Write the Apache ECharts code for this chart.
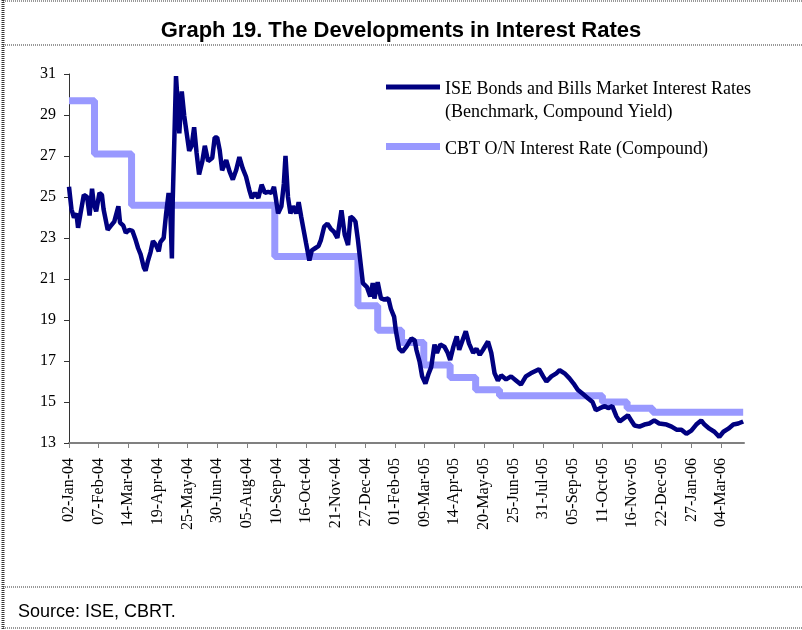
<!DOCTYPE html>
<html>
<head>
<meta charset="utf-8">
<script src="https://cdn.jsdelivr.net/npm/echarts@6/dist/echarts.min.js"></script>
<style>
html,body{margin:0;padding:0;background:#fff;}
#chart{width:802px;height:630px;}
</style>
</head>
<body>
<div id="chart"></div>
<script>
// ---- Data ----
const xTickLabels = ['02-Jan-04','07-Feb-04','14-Mar-04','19-Apr-04','25-May-04','30-Jun-04','05-Aug-04','10-Sep-04','16-Oct-04','21-Nov-04','27-Dec-04','01-Feb-05','09-Mar-05','14-Apr-05','20-May-05','25-Jun-05','31-Jul-05','05-Sep-05','11-Oct-05','16-Nov-05','22-Dec-05','27-Jan-06','04-Mar-06'];

const iseName = 'ISE Bonds and Bills Market Interest Rates\n(Benchmark, Compound Yield)';
const cbtName = 'CBT O/N Interest Rate (Compound)';

const iseDates = ['2004-01-02','2004-01-05','2004-01-08','2004-01-11','2004-01-13','2004-01-16','2004-01-20','2004-01-24','2004-01-27','2004-01-30',
'2004-02-01','2004-02-04','2004-02-08','2004-02-11','2004-02-13','2004-02-18','2004-02-22','2004-02-26','2004-03-02','2004-03-04',
'2004-03-08','2004-03-11','2004-03-15','2004-03-19','2004-03-23','2004-03-26','2004-03-29','2004-04-02','2004-04-04','2004-04-07',
'2004-04-10','2004-04-13','2004-04-16','2004-04-20','2004-04-22','2004-04-26','2004-04-29','2004-05-02','2004-05-04','2004-05-06',
'2004-05-07','2004-05-11','2004-05-13','2004-05-15','2004-05-18','2004-05-21','2004-05-24','2004-05-27','2004-05-30','2004-06-02',
'2004-06-05','2004-06-08','2004-06-12','2004-06-15','2004-06-19','2004-06-24','2004-06-27','2004-06-30','2004-07-03','2004-07-06',
'2004-07-11','2004-07-15','2004-07-19','2004-07-23','2004-07-27','2004-07-31','2004-08-04','2004-08-08','2004-08-11','2004-08-15',
'2004-08-19','2004-08-23','2004-08-27','2004-08-31','2004-09-04','2004-09-07','2004-09-09','2004-09-12','2004-09-16','2004-09-19',
'2004-09-21','2004-09-24','2004-09-27','2004-09-30','2004-10-04','2004-10-07','2004-10-10','2004-10-13','2004-10-16','2004-10-20',
'2004-10-23','2004-10-27','2004-10-31','2004-11-03','2004-11-07','2004-11-11','2004-11-15','2004-11-19','2004-11-23','2004-11-28',
'2004-12-02','2004-12-06','2004-12-09','2004-12-12','2004-12-15','2004-12-18','2004-12-22','2004-12-24','2004-12-29','2005-01-02',
'2005-01-05','2005-01-07','2005-01-11','2005-01-15','2005-01-19','2005-01-24','2005-01-27','2005-01-31','2005-02-02','2005-02-06',
'2005-02-10','2005-02-15','2005-02-21','2005-02-25','2005-02-27','2005-03-03','2005-03-06','2005-03-10','2005-03-14','2005-03-17',
'2005-03-21','2005-03-24','2005-03-28','2005-04-02','2005-04-06','2005-04-09','2005-04-13','2005-04-17','2005-04-20','2005-04-24',
'2005-04-28','2005-05-02','2005-05-07','2005-05-11','2005-05-15','2005-05-19','2005-05-25','2005-05-29','2005-06-02','2005-06-06',
'2005-06-10','2005-06-16','2005-06-22','2005-06-28','2005-07-04','2005-07-10','2005-07-16','2005-07-21','2005-07-26','2005-07-31',
'2005-08-04','2005-08-10','2005-08-16','2005-08-20','2005-08-26','2005-09-01','2005-09-06','2005-09-11','2005-09-17','2005-09-23',
'2005-09-29','2005-10-03','2005-10-08','2005-10-14','2005-10-18','2005-10-23','2005-10-28','2005-11-01','2005-11-06','2005-11-11',
'2005-11-15','2005-11-19','2005-11-25','2005-12-01','2005-12-07','2005-12-13','2005-12-19','2005-12-28','2006-01-03','2006-01-09',
'2006-01-15','2006-01-21','2006-01-27','2006-02-02','2006-02-08','2006-02-12','2006-02-18','2006-02-24','2006-03-02','2006-03-07',
'2006-03-13','2006-03-19','2006-03-25','2006-03-31'];

const iseValues = [25.5,24.4,24.0,24.2,23.5,24.2,25.1,25.0,24.1,25.4,
24.7,24.3,25.2,25.1,24.4,23.4,23.6,23.8,24.55,23.75,
23.6,23.25,23.4,23.35,22.9,22.5,22.2,21.55,21.4,21.9,
22.3,22.85,22.7,22.35,22.8,23.0,24.2,25.2,24.4,22.0,
24.8,30.9,29.6,28.1,30.15,28.95,28.1,27.25,27.5,28.4,
27.15,26.1,26.75,27.5,26.75,26.9,27.9,27.9,27.3,26.3,
26.8,26.25,25.85,26.3,26.95,26.4,26.0,25.35,24.95,25.2,
24.95,25.6,25.2,25.25,25.2,25.5,25.0,24.2,24.55,25.65,
27.0,25.0,24.2,24.55,24.2,24.75,24.05,23.4,22.75,21.9,
22.4,22.5,22.6,22.9,23.55,23.7,23.45,23.3,23.0,24.35,
23.15,22.65,24.05,23.95,23.8,22.9,21.5,20.8,20.6,20.15,
20.8,20.05,20.85,20.05,20.0,20.05,19.55,19.15,18.5,17.6,
17.45,17.7,18.1,18.0,17.55,16.95,16.25,15.9,16.4,16.7,
17.8,17.4,17.8,17.7,17.4,17.05,17.7,18.2,17.55,18.0,
18.45,17.85,17.4,17.6,17.3,17.55,17.95,17.4,16.4,16.05,
16.3,16.1,16.25,16.05,15.85,16.25,16.4,16.5,16.6,16.25,
16.0,16.25,16.4,16.55,16.4,16.15,15.9,15.6,15.4,15.2,
15.0,14.6,14.7,14.8,14.7,14.8,14.3,14.05,14.2,14.35,
14.1,13.85,13.8,13.9,13.95,14.1,13.95,13.9,13.8,13.65,
13.65,13.45,13.6,13.9,14.1,13.9,13.7,13.55,13.3,13.55,
13.7,13.9,13.95,14.05];

const cbtDates = ['2004-01-02','2004-02-02','2004-03-18','2004-09-08','2004-12-18','2005-01-11','2005-02-09','2005-03-08','2005-04-09','2005-05-10','2005-06-08','2005-10-11','2005-11-10','2005-12-11','2006-03-31'];
const cbtValues = [29.7,27.1,24.6,22.1,19.7,18.5,17.9,16.8,16.2,15.6,15.3,15.0,14.7,14.5,14.5];

// ---- helpers ----
const baseUTC = Date.UTC(2004, 0, 2);
function dayOf(s) {
  const p = s.split('-').map(Number);
  return Math.round((Date.UTC(p[0], p[1] - 1, p[2]) - baseUTC) / 86400000);
}
const tickStep = 36;
const tickDays = xTickLabels.map((_, i) => i * tickStep);

const iseData = iseDates.map((d, i) => [dayOf(d), iseValues[i]]);
const cbtData = cbtDates.map((d, i) => [dayOf(d), cbtValues[i]]);

const serif = '"Liberation Serif", "Times New Roman", serif';
const sans = '"Liberation Sans", Arial, sans-serif';

// legend swatches: a bar in the upper part of the icon box (tiny corner dots fix the box size)
const iseIcon = 'path://M0,0h0.05v0.05h-0.05z M0,6.5h54v5h-54z M53.95,45.95h0.05v0.05h-0.05z';
const cbtIcon = 'path://M0,0h54v7h-54z M53.95,12.95h0.05v0.05h-0.05z';

const chart = echarts.init(document.getElementById('chart'), null, {renderer: 'canvas'});
const dot = {stroke: '#333', lineWidth: 1, lineDash: [1, 1]};

chart.setOption({
  backgroundColor: '#fff',
  animation: false,
  title: [
    {text: 'Graph 19. The Developments in Interest Rates', left: 'center', top: 20, padding: 0,
     textStyle: {fontFamily: sans, fontWeight: 'bold', fontSize: 22, color: '#000'}},
    {text: 'Source: ISE, CBRT.', left: 18, top: 603, padding: 0,
     textStyle: {fontFamily: sans, fontWeight: 'normal', fontSize: 18, color: '#000'}}
  ],
  legend: [
    {data: [{name: iseName, icon: iseIcon}], left: 386, top: 78, padding: 0, itemWidth: 54, itemHeight: 46,
     textStyle: {fontFamily: serif, fontSize: 18, color: '#000', lineHeight: 23}},
    {data: [{name: cbtName, icon: cbtIcon}], left: 386, top: 138, padding: 0, itemWidth: 54, itemHeight: 13,
     textStyle: {fontFamily: serif, fontSize: 18, color: '#000', lineHeight: 23}}
  ],
  grid: {left: 69, right: 58, top: 74, bottom: 187, containLabel: false},
  xAxis: {
    type: 'value', min: 0, max: 820, interval: tickStep,
    splitLine: {show: false},
    axisLine: {show: true, lineStyle: {color: '#808080', width: 2}},
    axisTick: {show: true, length: 5, lineStyle: {color: '#808080', width: 1}, customValues: tickDays},
    axisLabel: {
      rotate: 90, margin: 15, fontFamily: serif, fontSize: 16, color: '#000',
      customValues: tickDays,
      formatter: function (v) { return (v % tickStep === 0 && xTickLabels[v / tickStep]) ? xTickLabels[v / tickStep] : ''; }
    }
  },
  yAxis: {
    type: 'value', min: 13, max: 31, interval: 2,
    splitLine: {show: false},
    axisLine: {show: true, lineStyle: {color: '#333', width: 1}},
    axisTick: {show: true, length: 5, lineStyle: {color: '#333', width: 1}},
    axisLabel: {margin: 13, fontFamily: serif, fontSize: 16, color: '#000'}
  },
  series: [
    {name: iseName, type: 'line', data: iseData, symbol: 'none', z: 3,
     lineStyle: {color: '#000080', width: 4.5}, itemStyle: {color: '#000080'}},
    {name: cbtName, type: 'line', step: 'end', data: cbtData, symbol: 'none', z: 2,
     lineStyle: {color: '#9999FF', width: 7}, itemStyle: {color: '#9999FF'}}
  ],
  graphic: [
    {type: 'line', shape: {x1: 3, y1: 1, x2: 802, y2: 1}, style: dot, silent: true},
    {type: 'line', shape: {x1: 3, y1: 45, x2: 802, y2: 45}, style: dot, silent: true},
    {type: 'line', shape: {x1: 3, y1: 587, x2: 802, y2: 587}, style: dot, silent: true},
    {type: 'line', shape: {x1: 3, y1: 628, x2: 802, y2: 628}, style: dot, silent: true},
    {type: 'line', shape: {x1: 3, y1: 0, x2: 3, y2: 630}, style: {stroke: '#333', lineWidth: 3, lineDash: [1, 1]}, silent: true}
  ]
});
</script>
</body>
</html>
